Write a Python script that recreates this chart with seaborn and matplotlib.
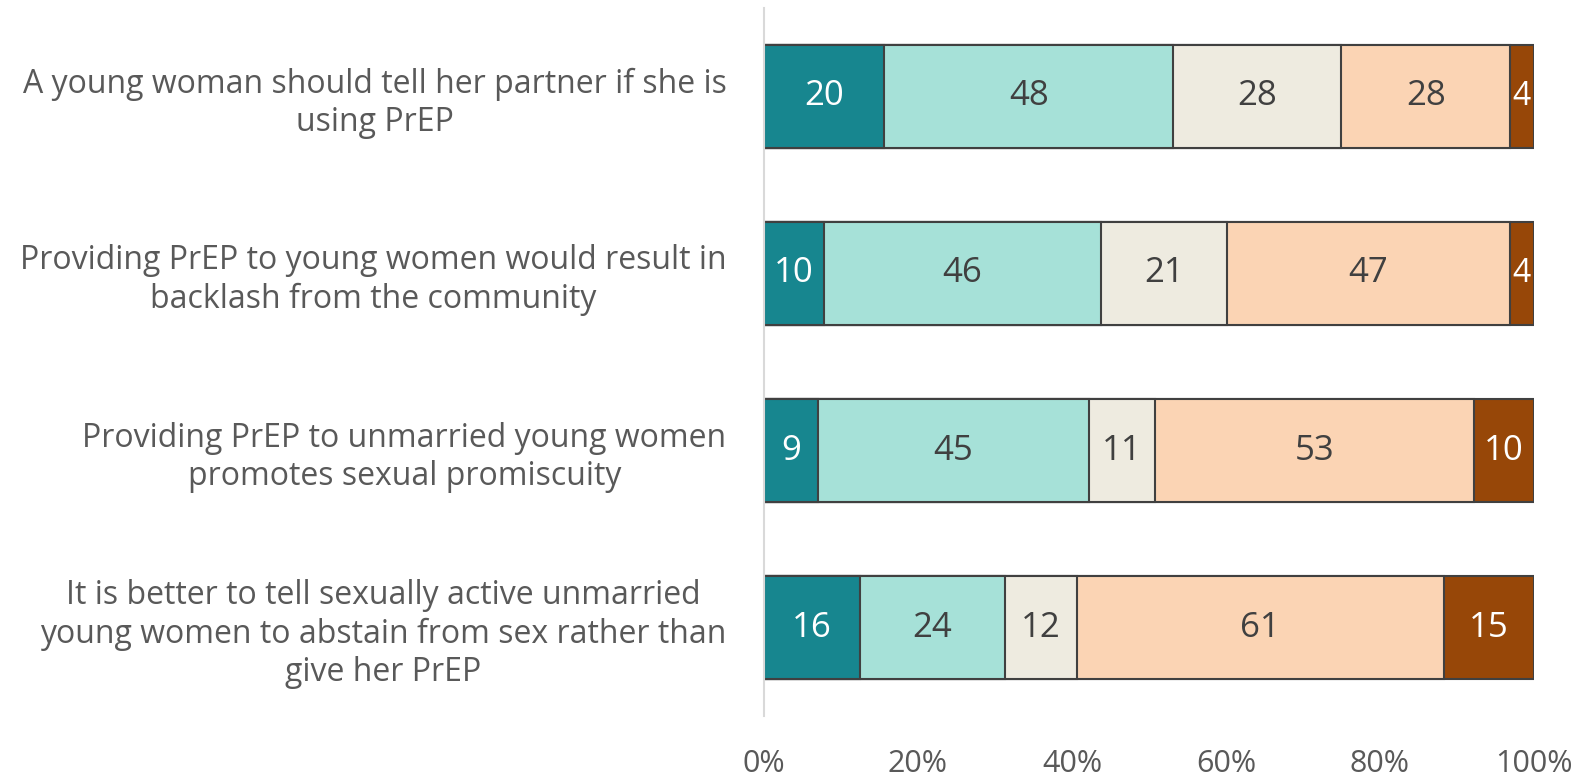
import numpy as np
import pandas as pd
import matplotlib.pyplot as plt
import seaborn as sns
from matplotlib.ticker import PercentFormatter

statements = [
    "A young woman should tell her partner if she is\nusing PrEP",
    "Providing PrEP to young women would result in\nbacklash from the community",
    "Providing PrEP to unmarried young women\npromotes sexual promiscuity",
    "It is better to tell sexually active unmarried\nyoung women to abstain from sex rather than\ngive her PrEP",
]
levels = ["Strongly agree", "Agree", "Neutral", "Disagree", "Strongly disagree"]
strongly_agree = [20, 10, 9, 16]
agree = [48, 46, 45, 24]
neutral = [28, 21, 11, 12]
disagree = [28, 47, 53, 61]
strongly_disagree = [4, 4, 10, 15]

colors = ["#17868F", "#A6E1D8", "#EEEBE0", "#FBD4B4", "#974708"]
label_colors = ["white", "#404040", "#404040", "#404040", "white"]

counts = np.array([strongly_agree, agree, neutral, disagree, strongly_disagree], dtype=float)
pct = counts / counts.sum(axis=0) * 100
cum = np.cumsum(pct, axis=0)

sns.set_style("white")
plt.rcParams["font.family"] = ["Open Sans", "DejaVu Sans"]

fig = plt.figure(figsize=(15.87, 7.81), dpi=100)
ax = fig.add_axes([0.4814, 0.0832, 0.4852, 0.9066])

# draw cumulative bars back to front so they look stacked
for i in range(len(levels) - 1, -1, -1):
    df = pd.DataFrame({"statement": statements, "value": cum[i]})
    sns.barplot(data=df, y="statement", x="value", orient="h", color=colors[i],
                saturation=1, width=0.58, edgecolor="#404040", linewidth=1.5, ax=ax)

for i in range(len(levels)):
    for j in range(len(statements)):
        xc = cum[i, j] - pct[i, j] / 2
        txt = f"{int(counts[i, j])}"
        fs = 25 if pct[i, j] > 4 else 23
        ax.text(xc, j, txt, ha="center", va="center",
                fontsize=fs, color=label_colors[i])

ax.set_xlim(0, 100)
ax.set_ylim(3.5, -0.5)
ax.xaxis.set_major_formatter(PercentFormatter(decimals=0))
ax.set_xticks([0, 20, 40, 60, 80, 100])
ax.set_xlabel("")
ax.set_ylabel("")
ax.tick_params(axis="x", length=0, pad=24, labelsize=22, labelcolor="#595959")
ax.tick_params(axis="y", length=0, pad=27, labelsize=23, labelcolor="#595959")
for lab in ax.get_yticklabels():
    lab.set_multialignment("center")
for s in ["top", "right", "bottom"]:
    ax.spines[s].set_visible(False)
ax.spines["left"].set_color("#D9D9D9")
ax.spines["left"].set_linewidth(1.5)

fig.savefig("out.png", dpi=100)
